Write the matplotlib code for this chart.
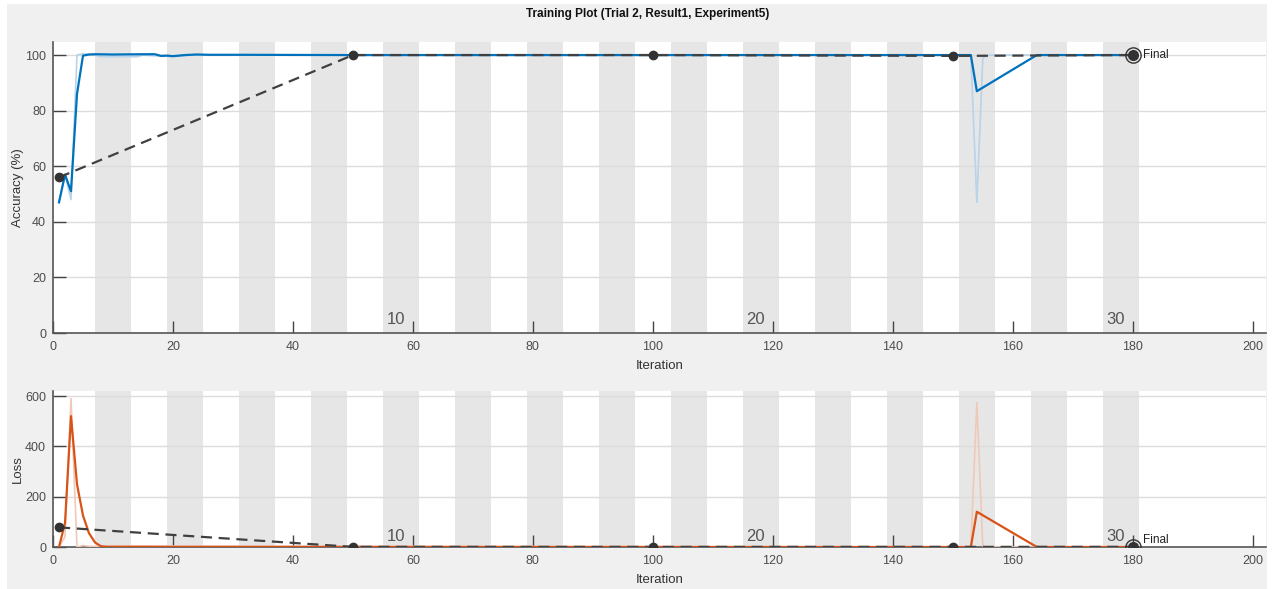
import matplotlib.pyplot as plt
from matplotlib.patches import Rectangle
from matplotlib import font_manager

FIG_W, FIG_H, DPI = 12.74, 5.89, 100
BLUE = "#0072BD"
BLUE_RAW = "#b9d3e8"
ORANGE = "#D95319"
ORANGE_RAW = "#efc9b8"
DARK = "#404040"
BAND = "#e6e6e6"
TICK_COL = "#4d4d4d"

names = {f.name for f in font_manager.fontManager.ttflist}
NARROW = "Liberation Sans Narrow" if "Liberation Sans Narrow" in names else "Liberation Sans"
plt.rcParams['font.family'] = ['Liberation Sans', 'DejaVu Sans']

# ---- data ----
ITERS_PER_EPOCH = 6
N_EPOCHS = 30
epoch_labels = [10, 20, 30]

acc_it = [1, 2, 3, 4, 5, 6, 7, 10, 15, 17, 18, 19, 20, 22, 24, 26, 30, 50, 100, 150, 153, 154, 164, 180]
acc_smooth = [47, 57, 51, 86, 99.8, 100.2, 100.3, 100.2, 100.3, 100.3, 99.7, 99.8, 99.6, 100, 100.2, 100.1,
              100.1, 100, 100, 100, 100, 87, 100, 100]
acc_raw_it = [1, 2, 3, 4, 5, 7, 8, 14, 15, 18, 20, 23, 153, 154, 155, 156, 180]
acc_raw = [47, 57, 48, 100, 100.5, 100, 99.4, 99.4, 100, 99.6, 99.5, 100, 100, 47, 99, 100, 100]

loss_it = [1, 2, 3, 4, 5, 6, 7, 8, 9, 20, 50, 153, 154, 164, 180]
loss_smooth = [0, 95, 520, 250, 125, 55, 18, 3, 1, 0.5, 0.2, 0, 140, 0, 0]
loss_raw_it = [1, 2, 3, 4, 5, 6, 7, 12, 153, 154, 155, 180]
loss_raw = [0, 40, 590, 0, 6, 3, 2, 4, 0, 575, 0, 0]

val_it = [1, 50, 100, 150, 180]
val_acc = [56, 100, 100, 99.7, 100]
val_loss = [78, 0.5, 0.3, 0.5, 0.5]

fig = plt.figure(figsize=(FIG_W, FIG_H), dpi=DPI, facecolor="white")
fig.patches.append(Rectangle((7 / 1274, 0), 1260 / 1274, 1 - 4 / 589, transform=fig.transFigure,
                             facecolor="#f0f0f0", edgecolor="none", zorder=-10))

ax1 = fig.add_axes([53 / 1274, (589 - 333) / 589, 1213 / 1274, 291 / 589])
ax2 = fig.add_axes([53 / 1274, (589 - 547) / 589, 1213 / 1274, 156 / 589])


def style(ax, ymax, yticks, epoch_y):
    ax.set_xlim(0, 202.2)
    ax.set_ylim(0, ymax)
    ax.set_facecolor("white")
    for k in range(2, N_EPOCHS + 1, 2):
        ax.axvspan((k - 1) * ITERS_PER_EPOCH + 1, k * ITERS_PER_EPOCH + 1, color=BAND, lw=0, zorder=0)
    for y in yticks[1:]:
        ax.axhline(y, color="#dcdcdc", lw=1, zorder=1)
    for e in epoch_labels:
        ax.text(e * ITERS_PER_EPOCH - 1.3, epoch_y, str(e), ha="right", va="bottom",
                fontsize=12, color="#555555", zorder=2)
    ax.set_xticks(range(0, 201, 20))
    ax.set_yticks(yticks)
    ax.tick_params(axis="x", direction="in", length=9, width=1, color="#444444",
                   labelcolor=TICK_COL, labelsize=9, pad=6)
    ax.tick_params(axis="y", direction="in", length=9, width=1, color="#444444",
                   labelcolor=TICK_COL, labelsize=9, pad=5)
    for s in ["top", "right"]:
        ax.spines[s].set_visible(False)
    for s in ["left", "bottom"]:
        ax.spines[s].set_color("#555555")
        ax.spines[s].set_linewidth(1.2)
    ax.set_xlabel("Iteration", fontsize=9.5, color="#333333", labelpad=5)


def val_line(ax, vals, dy):
    ax.plot(val_it, vals, color=DARK, lw=1.6, ls=(0, (5, 3)), zorder=5)
    ax.plot(val_it[:-1], vals[:-1], "o", color="#333333", ms=6, zorder=6)
    ax.plot(val_it[-1], vals[-1], "o", mfc="none", mec="#333333", ms=11, mew=1, zorder=6)
    ax.plot(val_it[-1], vals[-1], "o", color="#333333", ms=7, zorder=7)
    ax.text(val_it[-1] + 1.7, vals[-1] + dy, "Final", fontsize=8.5, color="#222222",
            ha="left", va="center", zorder=7)


style(ax1, 104.7, [0, 20, 40, 60, 80, 100], 2)
ax1.plot(acc_raw_it, acc_raw, color=BLUE_RAW, lw=1.2, zorder=3)
ax1.plot(acc_it, acc_smooth, color=BLUE, lw=1.6, zorder=4)
val_line(ax1, val_acc, 0)
ax1.set_ylabel("Accuracy (%)", fontsize=9.5, color="#333333", labelpad=1)

style(ax2, 620, [0, 200, 400, 600], 10)
ax2.plot(loss_raw_it, loss_raw, color=ORANGE_RAW, lw=1.2, zorder=3)
ax2.plot(loss_it, loss_smooth, color=ORANGE, lw=1.6, zorder=4)
val_line(ax2, val_loss, 28)
ax2.set_ylabel("Loss", fontsize=9.5, color="#333333", labelpad=1)

fig.text(648 / 1274, 1 - 14 / 589, "Training Plot (Trial 2, Result1, Experiment5)", ha="center", va="center",
         fontsize=8.5, fontweight="bold", family=[NARROW, 'DejaVu Sans'], color="#111111")

fig.savefig("out.png", dpi=DPI, facecolor=fig.get_facecolor())
